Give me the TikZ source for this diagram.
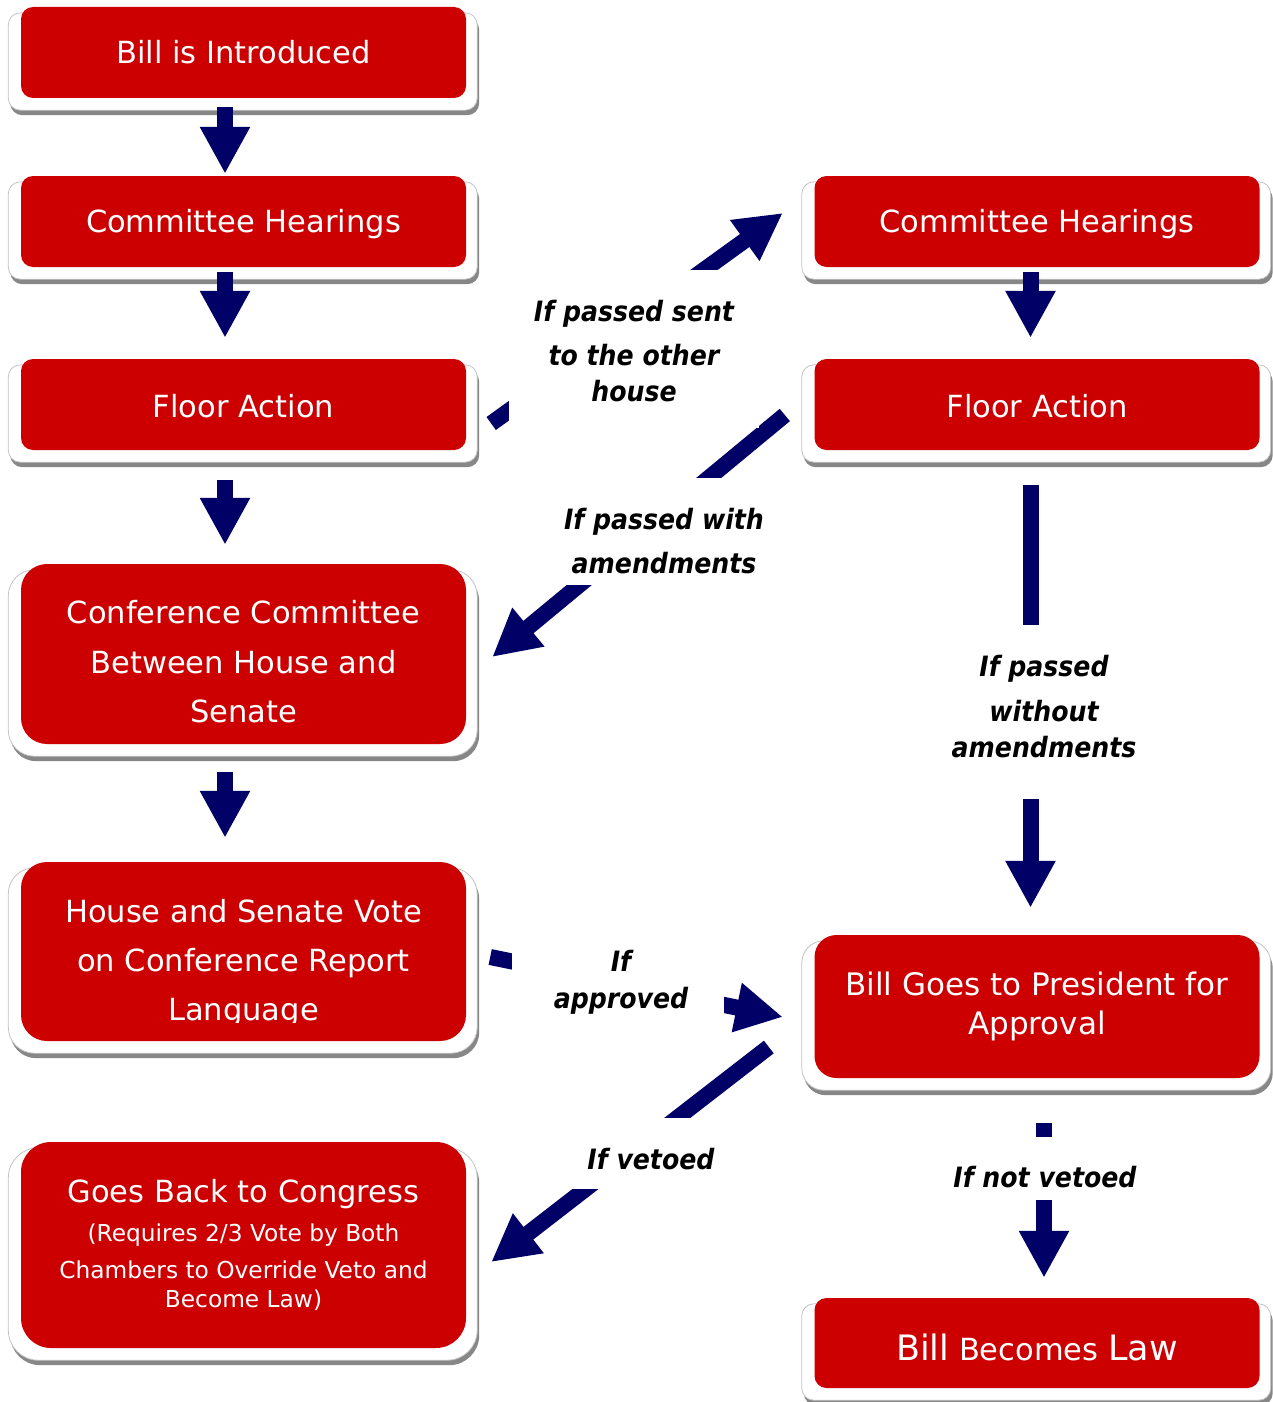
\documentclass[tikz,border=0pt]{standalone}
\usepackage{fontspec}
\setmainfont{DejaVu Sans}
\newfontfamily\labfont{DejaVu Sans Condensed Bold Oblique}
\usetikzlibrary{arrows.meta}
\definecolor{boxred}{RGB}{204,0,0}
\definecolor{navyarrow}{RGB}{0,0,102}
\definecolor{frameline}{RGB}{195,195,195}
\definecolor{shadowgrey}{RGB}{135,135,135}
\pgfdeclarelayer{bg}
\pgfsetlayers{bg,main}
\newcommand\myredframe[2]{%
  \fill[shadowgrey, rounded corners=#2] ([xshift=-10.5pt,yshift=-11pt]#1.north west) rectangle ([xshift=13pt,yshift=-17pt]#1.south east);
  \filldraw[fill=white, draw=frameline, line width=0.8pt, rounded corners=#2] ([xshift=-12.5pt,yshift=-6pt]#1.north west) rectangle ([xshift=11pt,yshift=-12pt]#1.south east);
}
\tikzset{
  rbox/.style={fill=boxred, text=white, font=\fontsize{30.5}{40}\selectfont, minimum width=445pt, align=center, inner sep=0pt},
  flow/.style={draw=navyarrow, line width=16pt, -{Triangle[width=47pt,length=47pt]}},
  lab/.style={font=\labfont\fontsize{28}{36}\selectfont, align=center, inner sep=0pt, text=black},
  mask/.style={fill=white}
}
\begin{document}
\begin{tikzpicture}[x=1pt,y=-1pt]
\useasboundingbox (0,0) rectangle (1272,1402);
% boxes
\node[rbox, minimum height=91pt, rounded corners=12pt] (L1) at (243.5,52.5) {Bill is Introduced};
\node[rbox, minimum height=91pt, rounded corners=12pt] (L2) at (243.5,221.5) {\rule{0pt}{29pt}Committee Hearings};
\node[rbox, minimum height=91pt, rounded corners=12pt] (L3) at (243.5,404.5) {\rule{0pt}{27pt}Floor Action};
\node[rbox, minimum height=180pt, rounded corners=26pt, font=\fontsize{30.5}{49.5}\selectfont] (L4) at (243.5,654) {\rule{0pt}{39pt}Conference Committee\\Between House and\\Senate};
\node[rbox, minimum height=179pt, rounded corners=26pt, font=\fontsize{30.5}{49}\selectfont] (L5) at (243.5,951.5) {\rule{0pt}{47pt}House and Senate Vote\\on Conference Report\\Language};
\node[rbox, minimum height=206pt, rounded corners=30pt, font=\fontsize{23.3}{29}\selectfont] (L6) at (243.5,1245) {{\fontsize{30.5}{40}\selectfont Goes Back to Congress}\\[10pt](Requires 2/3 Vote by Both\\[8pt]Chambers to Override Veto and\\Become Law)};
\node[rbox, minimum height=91pt, rounded corners=12pt] (R1) at (1037,221.5) {\rule{0pt}{29pt}Committee Hearings};
\node[rbox, minimum height=91pt, rounded corners=12pt] (R2) at (1037,404.5) {\rule{0pt}{27pt}Floor Action};
\node[rbox, minimum height=143pt, rounded corners=22pt, font=\fontsize{31}{39}\selectfont] (R3) at (1037,1006.5) {Bill Goes to President for\\Approval};
\node[rbox, minimum height=90pt, rounded corners=12pt, font=\fontsize{30.5}{40}\selectfont] (R4) at (1037,1343) {\rule{0pt}{36pt}{\fontsize{35}{40}\selectfont Bill} Becomes {\fontsize{35}{40}\selectfont Law}};
% clipped descenders of "Language"
\fill[boxred] (150,1022.5) rectangle (340,1036);
% frames
\begin{pgfonlayer}{bg}
\myredframe{L1}{12pt}\myredframe{L2}{12pt}\myredframe{L3}{12pt}
\myredframe{L4}{26pt}\myredframe{L5}{26pt}\myredframe{L6}{30pt}
\myredframe{R1}{12pt}\myredframe{R2}{12pt}\myredframe{R3}{22pt}\myredframe{R4}{12pt}
\end{pgfonlayer}
% connectors
\draw[flow] ([xshift=-18.5pt,yshift=-9pt]L1.south) -- ([xshift=-18.5pt,yshift=2pt]L2.north);
\draw[flow] ([xshift=-18.5pt,yshift=-5pt]L2.south) -- ([xshift=-18.5pt,yshift=21pt]L3.north);
\draw[flow] ([xshift=-18.5pt,yshift=-30pt]L3.south) -- ([xshift=-18.5pt,yshift=19pt]L4.north);
\draw[flow] ([xshift=-18.5pt,yshift=-28pt]L4.south) -- ([xshift=-18.5pt,yshift=24pt]L5.north);
\draw[flow] ([xshift=-6.5pt,yshift=-5pt]R1.south) -- ([xshift=-6.5pt,yshift=21pt]R2.north);
\draw[flow] ([xshift=-6.5pt,yshift=-35pt]R2.south) -- ([xshift=-6.5pt,yshift=27pt]R3.north);
\draw[flow] ([xshift=7pt,yshift=-45pt]R3.south) -- ([xshift=7pt,yshift=20pt]R4.north);
\draw[flow] ([xshift=25pt,yshift=-19pt]L3.east) -- ([xshift=-31.5pt,yshift=8.5pt]R1.west);
\draw[flow] ([xshift=-29.5pt,yshift=-10.5pt]R2.west) -- ([xshift=26pt,yshift=-3pt]L4.east);
\draw[flow] ([xshift=24pt,yshift=-5.5pt]L5.east) -- ([xshift=-31.5pt,yshift=-10.5pt]R3.west);
\draw[flow] ([xshift=-45.5pt,yshift=-40.5pt]R3.west) -- ([xshift=25pt,yshift=-17pt]L6.east);
% label backgrounds
\fill[mask] (509,270) rectangle (759,428);
\fill[mask] (540,478) rectangle (790,585);
\fill[mask] (940,625) rectangle (1150,799);
\fill[mask] (512,930) rectangle (724,1035);
\fill[mask] (560,1118) rectangle (760,1189);
\fill[mask] (950,1137) rectangle (1140,1200);
% labels
\node[lab] (tA) at (634,351) {If passed sent\\[8pt]to the other\\house};
\node[lab] (tB) at (664,541.5) {If passed with\\[8pt]amendments};
\node[lab] (tC) at (1044,707) {If passed\\[9pt]without\\amendments};
\node[lab] (tD) at (621,982) {If\\[1pt]approved};
\node[lab] (tE) at (651,1159) {If vetoed};
\node[lab] (tF) at (1045,1177) {If not vetoed};
\end{tikzpicture}
\end{document}
